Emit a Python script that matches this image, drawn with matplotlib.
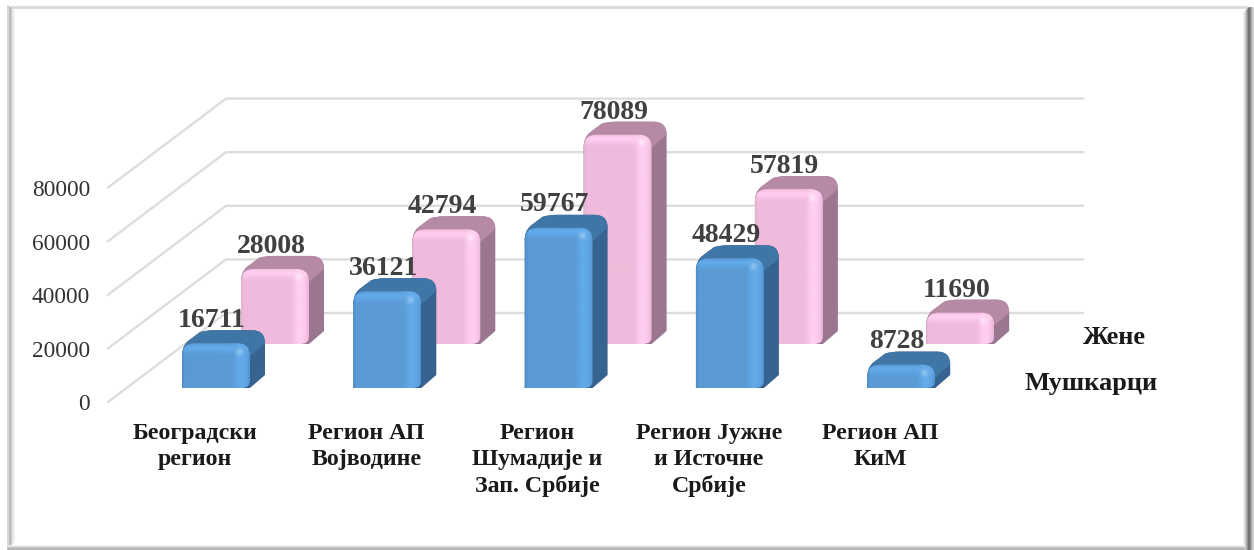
import numpy as np
import matplotlib
matplotlib.use("Agg")
import matplotlib.pyplot as plt
from matplotlib.path import Path
from matplotlib.patches import PathPatch

regions = ["Београдски\nрегион", "Регион АП\nВојводине", "Регион\nШумадије и\nЗап. Србије",
           "Регион Јужне\nи Источне\nСрбије", "Регион АП\nКиМ"]
men = [16711, 36121, 59767, 48429, 8728]
women = [28008, 42794, 78089, 57819, 11690]
ticks = [0, 20000, 40000, 60000, 80000]
series_names = ["Мушкарци", "Жене"]

plt.rcParams["font.family"] = ["Liberation Serif", "DejaVu Serif"]

# one category step is 171.3 px, 1000 units are 2.68 px
PX = 1 / 171.3
PY = 1000 / 2.68
X0, Y0 = 216, 388  # pixel of category 0 / value 0

fig = plt.figure(figsize=(12.54, 5.5), dpi=100)
ax = fig.add_axes([0, 0, 1, 1])
ax.axis("off")


def rgb(s):
    return np.array(matplotlib.colors.to_rgb(s))


def face_image(w, h, base, hi, dark, spot):
    # shaded front of a bar, w x h pixels
    w, h = max(int(w), 4), max(int(h), 4)
    xs = np.arange(w)[None, :]
    ys = np.arange(h)[:, None]
    img = np.ones((h, w, 3)) * rgb(base)
    band = np.clip((xs - w * 0.72) / 7, 0, 1) * np.clip((w * 0.99 - xs) / 6, 0, 1)
    top = np.clip((ys - 0) / 3, 0, 1) * np.clip((12 - ys) / 7, 0, 1)
    glow = np.maximum(band, top)[:, :, None]
    img = img * (1 - glow) + rgb(hi) * glow
    edge = np.clip((3 - xs) / 3, 0, 1) * 0.35 + np.clip((xs - (w - 3)) / 3, 0, 1) * 0.3
    edge = np.broadcast_to(edge, (h, w))[:, :, None]
    img = img * (1 - edge) + rgb(dark) * edge
    d = np.exp(-(((xs - w * 0.84) / 3.5) ** 2 + ((ys - 8) / 3.5) ** 2))[:, :, None]
    img = img * (1 - d) + rgb(spot) * d
    return img


def curve_path(pts):
    # a point tagged "c" is the control point of a rounded corner
    verts, codes = [], []
    after_ctrl = False
    for p in pts:
        verts.append(p[:2])
        if not codes:
            codes.append(Path.MOVETO)
        elif len(p) == 3 or after_ctrl:
            codes.append(Path.CURVE3)
        else:
            codes.append(Path.LINETO)
        after_ctrl = len(p) == 3
    verts.append(verts[0])
    codes.append(Path.CLOSEPOLY)
    return Path(verts, codes)


def bar3d(cx, value, base, colors, z):
    w = 68 * PX
    l, r = cx - w / 2, cx + w / 2
    b, t = base, base + value
    dx, dy = 15 * PX, 13 * PY
    rx, ry = 13 * PX, 13 * PY
    c = colors

    # convex outline of top and side: the left shoulder runs straight to the back
    shoulder = [
        (l, t - ry), (l, t - 3 * PY, "c"), (l + 6 * PX, t + 2 * PY),
        (l + 18 * PX, t + dy - 2 * PY), (l + 24 * PX, t + dy, "c"), (l + 32 * PX, t + dy),
        (r + dx - rx, t + dy), (r + dx, t + dy, "c"), (r + dx, t + dy - ry),
    ]
    side = curve_path(shoulder + [(r + dx, b + dy), (r, b), (l, b)])
    ax.add_patch(PathPatch(side, fc=c["side"], ec="none", zorder=z))

    top = curve_path(shoulder + [(r, t - ry)])
    ax.add_patch(PathPatch(top, fc=c["top"], ec="none", zorder=z + 0.1))

    front = curve_path([
        (l, b), (l, t - ry), (l, t, "c"), (l + rx, t),
        (r - rx, t), (r, t, "c"), (r, t - ry),
        (r, b + 7 * PY), (r, b, "c"), (r - 9 * PX, b),
    ])
    clip = PathPatch(front, fc="none", ec="none", transform=ax.transData, zorder=z + 0.2)
    ax.add_patch(clip)
    img = face_image(68, value / PY, c["base"], c["hi"], c["dark"], c["spot"])
    im = ax.imshow(img, extent=(l, r, b, t), origin="upper", aspect="auto",
                   interpolation="bilinear", zorder=z + 0.2)
    im.set_clip_path(clip)


blue = dict(base="#5A9AD5", hi="#62A9E8", dark="#3F7CB4", spot="#8CC4F0", top="#3F76A6", side="#376390")
pink = dict(base="#EFBADB", hi="#FFCDEF", dark="#D8A6C6", spot="#FFE6F8", top="#B68AA5", side="#9A7690")

back = 75 * PY      # back wall floor, above the front row
pink_base = 44 * PY
xleft = (108 - X0) * PX
xcorner = (226 - X0) * PX
xright = (1083 - X0) * PX

for v in ticks:
    ax.plot([xleft, xcorner, xright], [v - 14 * PY, v + back, v + back],
            color="#DDDDDD", lw=1.7, solid_joinstyle="miter", zorder=1)
    ax.text((90 - X0) * PX, v - 17 * PY, str(v), ha="right", va="center",
            fontsize=16.8, color="#333333", zorder=6)

for i in range(len(regions)):
    bar3d(i + 59 * PX, women[i], pink_base, pink, 2 + 0.5 * i)
for i in range(len(regions)):
    bar3d(i, men[i], 0, blue, 3 + 0.5 * i)

for i in range(len(regions)):
    ax.text(i - 4 * PX, men[i] + 23 * PY, str(men[i]), ha="center", va="center",
            fontsize=20, fontweight="bold", color="#404040", zorder=8)
    ax.text(i + 55 * PX, women[i] + pink_base + 22.5 * PY, str(women[i]), ha="center", va="center",
            fontsize=20, fontweight="bold", color="#404040", zorder=8)
    ax.text(i - 21 * PX, -35 * PY, regions[i], ha="center", va="top", fontsize=17.2,
            fontweight="bold", color="#1A1A1A", linespacing=1.31, zorder=8)

ax.text((1158 - X0) * PX, (Y0 - 383.5) * PY, series_names[0], ha="right", va="center",
        fontsize=19, fontweight="bold", color="#1A1A1A", zorder=8)
ax.text((1146 - X0) * PX, (Y0 - 338) * PY, series_names[1], ha="right", va="center",
        fontsize=19, fontweight="bold", color="#1A1A1A", zorder=8)

ax.set_xlim(-X0 * PX, (1254 - X0) * PX)
ax.set_ylim((Y0 - 550) * PY, Y0 * PY)

# bevelled picture frame, in figure pixels
fr = fig.add_axes([0, 0, 1, 1], facecolor="none")
fr.axis("off")
fr.set_xlim(0, 1254)
fr.set_ylim(550, 0)
fr.plot([8, 1246], [7, 7], color="#DADADA", lw=2)
fr.plot([8, 8], [6, 546], color="#D8D8D8", lw=1.4)
for k, g in enumerate(["#A8A8A8", "#BDBDBD", "#D0D0D0", "#E2E2E2", "#F0F0F0"]):
    fr.plot([9.5 + k, 9.5 + k], [8 + k, 545 - k], color=g, lw=1.1)
for k, g in enumerate(["#F0F0F0", "#DDDDDD", "#C4C4C4", "#A6A6A6", "#858585", "#666666", "#6E6E6E", "#8C8C8C", "#ABABAB", "#C9C9C9"]):
    fr.plot([1243.5 + k, 1243.5 + k], [8 + max(0, 5 - k), 550], color=g, lw=1.1)
for k, g in enumerate(["#EFEFEF", "#DADADA", "#C2C2C2", "#ACACAC", "#B5B5B5"]):
    fr.plot([8, 1244], [545.5 + k, 545.5 + k], color=g, lw=1.1)

fig.savefig("out.png", dpi=100, facecolor="white")
